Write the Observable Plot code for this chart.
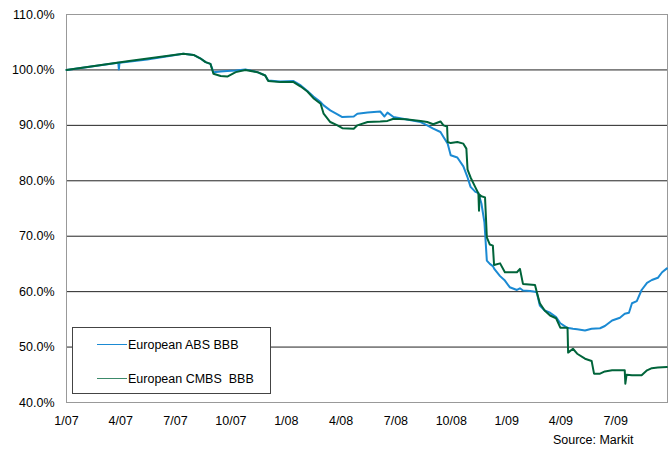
<!DOCTYPE html>
<html>
<head>
<meta charset="utf-8">
<script src="https://cdn.jsdelivr.net/npm/d3@7"></script>
<script src="https://cdn.jsdelivr.net/npm/@observablehq/plot@0.6"></script>
<style>
  html, body { margin: 0; padding: 0; background: #fff; }
  #chart { position: relative; width: 671px; height: 458px; }
  svg { font-family: "Liberation Sans", Arial, sans-serif; }
</style>
</head>
<body>
<div id="chart"></div>
<script>
const absDates = ["2007-01-01","2007-03-28","2007-03-29","2007-03-30","2007-05-15","2007-07-14","2007-07-31","2007-08-11","2007-08-20","2007-08-28","2007-09-02","2007-09-14","2007-09-25","2007-10-09","2007-10-25","2007-11-14","2007-11-27","2007-12-02","2007-12-22","2008-01-13","2008-01-25","2008-02-05","2008-02-15","2008-02-27","2008-03-03","2008-03-14","2008-03-26","2008-04-03","2008-04-22","2008-04-28","2008-05-15","2008-06-05","2008-06-12","2008-06-17","2008-06-27","2008-07-17","2008-08-11","2008-08-22","2008-09-01","2008-09-13","2008-09-18","2008-09-25","2008-09-30","2008-10-11","2008-10-21","2008-10-28","2008-11-02","2008-11-10","2008-11-15","2008-11-20","2008-11-25","2008-11-29","2008-12-04","2008-12-09","2008-12-12","2008-12-21","2008-12-29","2009-01-06","2009-01-18","2009-01-23","2009-01-28","2009-02-09","2009-02-17","2009-02-20","2009-02-25","2009-03-05","2009-03-14","2009-03-24","2009-03-31","2009-04-11","2009-04-21","2009-04-28","2009-05-11","2009-05-22","2009-06-05","2009-06-13","2009-06-25","2009-07-08","2009-07-16","2009-07-23","2009-07-28","2009-08-05","2009-08-13","2009-08-22","2009-08-30","2009-09-09","2009-09-16","2009-09-24"];
const absValues = [100.0,101.3,100.1,101.3,101.9,102.9,102.7,102.1,101.4,101.1,99.6,99.7,99.8,99.9,100.1,99.6,99.0,98.1,97.9,98.0,97.2,96.2,95.2,94.2,93.6,92.7,92.0,91.5,91.6,92.1,92.3,92.5,91.6,92.3,91.5,91.1,90.6,90.0,89.4,88.8,87.9,86.7,84.6,84.2,82.6,80.6,78.9,78.0,77.8,75.9,72.5,65.6,65.0,64.6,64.0,62.8,62.0,60.8,60.3,60.6,60.2,60.1,60.0,59.8,57.5,56.6,56.2,55.4,54.3,53.5,53.3,53.2,53.0,53.3,53.4,53.8,54.8,55.3,56.0,56.2,57.9,58.3,60.3,61.6,62.1,62.5,63.5,64.2];

const cmbsDates = ["2007-01-01","2007-04-15","2007-07-14","2007-07-31","2007-08-11","2007-08-20","2007-08-28","2007-09-02","2007-09-14","2007-09-25","2007-10-09","2007-10-25","2007-11-14","2007-11-27","2007-12-02","2007-12-22","2008-01-13","2008-01-25","2008-02-05","2008-02-15","2008-02-27","2008-03-03","2008-03-14","2008-03-26","2008-04-03","2008-04-22","2008-04-28","2008-05-15","2008-06-05","2008-06-17","2008-06-27","2008-07-17","2008-08-11","2008-08-22","2008-09-01","2008-09-13","2008-09-18","2008-09-24","2008-09-25","2008-09-30","2008-10-11","2008-10-21","2008-10-26","2008-10-28","2008-11-02","2008-11-10","2008-11-15","2008-11-16","2008-11-17","2008-11-20","2008-11-26","2008-11-29","2008-12-04","2008-12-09","2008-12-11","2008-12-21","2008-12-29","2009-01-18","2009-01-23","2009-01-28","2009-02-17","2009-02-20","2009-02-25","2009-03-05","2009-03-14","2009-03-24","2009-03-31","2009-04-12","2009-04-13","2009-04-21","2009-04-28","2009-05-11","2009-05-22","2009-05-26","2009-06-05","2009-06-13","2009-06-25","2009-07-16","2009-07-17","2009-07-19","2009-07-28","2009-08-13","2009-08-22","2009-08-30","2009-09-09","2009-09-24"];
const cmbsValues = [100.0,101.6,102.9,102.7,102.1,101.4,101.1,99.3,98.9,98.8,99.6,100.0,99.6,99.0,98.0,97.8,97.8,97.0,96.1,94.9,93.9,92.1,90.6,90.0,89.5,89.4,90.0,90.6,90.7,90.8,91.2,91.1,90.8,90.6,90.2,90.7,90.0,89.8,87.0,86.8,87.0,86.7,85.8,82.0,80.6,78.8,77.7,74.6,77.5,77.2,77.0,69.8,68.5,68.3,64.8,65.1,63.5,63.5,64.1,61.4,61.2,59.9,57.9,56.6,55.7,55.2,53.5,53.5,49.0,49.7,48.8,47.9,47.5,45.2,45.2,45.6,45.8,45.8,43.4,45.0,44.9,44.9,45.8,46.2,46.3,46.4];

const yTicks = [40,50,60,70,80,90,100,110];
const gridValues = [50,60,70,80,90,100];
const xTickDates = ["2007-01-01","2007-04-01","2007-07-01","2007-10-01","2008-01-01","2008-04-01","2008-07-01","2008-10-01","2009-01-01","2009-04-01","2009-07-01"];
const xDomain = ["2007-01-01","2009-09-25"];
const seriesNames = ["European ABS BBB","European CMBS  BBB"];
const sourceText = "Source: Markit";

const parse = d3.utcParse("%Y-%m-%d");
const abs = absDates.map((d,i) => ({date: parse(d), value: absValues[i]}));
const cmbs = cmbsDates.map((d,i) => ({date: parse(d), value: cmbsValues[i]}));
const blue = "#1b8ad3", green = "#00643a";

const chart = Plot.plot({
  width: 671,
  height: 458,
  marginLeft: 66,
  marginRight: 4,
  marginTop: 14,
  marginBottom: 56,
  style: {fontFamily: '"Liberation Sans", Arial, sans-serif', fontSize: "12.5px", color: "#000", background: "#fff"},
  x: {type: "utc", domain: xDomain.map(parse)},
  y: {domain: [40, 110]},
  marks: [
    Plot.ruleY(gridValues, {stroke: "#222", strokeWidth: 1}),
    Plot.frame({stroke: "#999", strokeWidth: 1}),
    Plot.axisY(yTicks, {tickSize: 0, tickPadding: 12, tickFormat: d => d.toFixed(1) + "%", label: null, fill: "#000"}),
    Plot.axisX(xTickDates.map(parse), {tickSize: 0, tickPadding: 14, tickFormat: d3.utcFormat("%-m/%y"), label: null, fill: "#000"}),
    Plot.line(abs, {x: "date", y: "value", stroke: blue, strokeWidth: 2}),
    Plot.line(cmbs, {x: "date", y: "value", stroke: green, strokeWidth: 2}),
    Plot.text([sourceText], {frameAnchor: "bottom-right", dx: -34, dy: 41, textAnchor: "end", fill: "#000", clip: false})
  ]
});
document.getElementById("chart").appendChild(chart);

// Legend box inside the plot
const svg = d3.select(chart);
const lg = svg.append("g").attr("transform", "translate(72,327)").attr("text-anchor", "start");
lg.append("rect").attr("x", 0.5).attr("y", 0.5).attr("width", 198).attr("height", 66)
  .attr("fill", "#fff").attr("stroke", "#444").attr("stroke-width", 1);
const colors = [blue, "#3c8a6a"];
seriesNames.forEach((name, i) => {
  const y = 17.5 + i * 34;
  lg.append("line").attr("x1", 25).attr("x2", 55).attr("y1", y).attr("y2", y)
    .attr("stroke", colors[i]).attr("stroke-width", 1);
  lg.append("text").attr("x", 56).attr("y", y).attr("dy", "0.35em")
    .attr("text-anchor", "start").attr("font-size", "12.5px").attr("fill", "#000")
    .style("white-space", "pre").text(name);
});
</script>
</body>
</html>
